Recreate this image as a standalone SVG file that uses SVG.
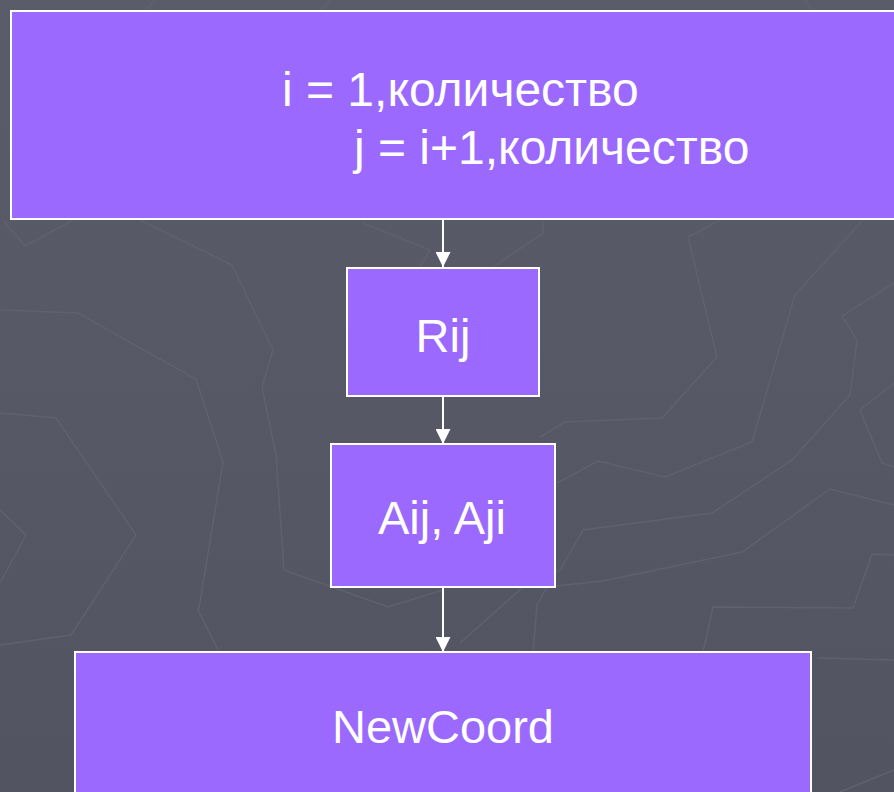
<svg xmlns="http://www.w3.org/2000/svg" width="894" height="792" viewBox="0 0 894 792">
  <defs>
    <linearGradient id="bg" x1="0" y1="0" x2="0" y2="1">
      <stop offset="0" stop-color="#5a5c6a"/>
      <stop offset="1" stop-color="#525462"/>
    </linearGradient>
    <marker id="arrow" viewBox="0 0 15 15" refX="15" refY="7.5" markerWidth="15" markerHeight="15" markerUnits="userSpaceOnUse" orient="auto">
      <path d="M0,0 L15,7.5 L0,15 Z" fill="#ffffff"/>
    </marker>
    <style>
      .deco { fill: none; stroke: #5f616e; stroke-width: 1.5; stroke-linejoin: miter; }
      .box { fill: #9b69fe; stroke: #ffffff; stroke-width: 2; }
      .lbl { font-family: "Liberation Sans", Arial, sans-serif; font-size: 47px; fill: #ffffff; }
      .hdr { font-size: 48px; }
      .edge { stroke: #ffffff; stroke-width: 2; fill: none; }
    </style>
  </defs>

  <!-- backdrop -->
  <rect x="0" y="0" width="894" height="792" fill="url(#bg)"/>

  <!-- faint contour pattern -->
  <g id="pattern">
    <polyline class="deco" points="0,310 78,313 196,379 223,462 199,608 198,610 219,652"/>
    <polyline class="deco" points="140,220 232,265 273,350 262,387 276,455 284,570 388,607 443,590"/>
    <polyline class="deco" points="0,413 56,418 136,535 71,635 0,645"/>
    <polyline class="deco" points="0,510 26,535 0,583"/>
    <polyline class="deco" points="3,220 25,246 73,220"/>
    <polyline class="deco" points="363,223 430,250 420,267"/>
    <polyline class="deco" points="493,267 543,233 543,220"/>
    <polyline class="deco" points="720,220 688,237 717,357 662,418 565,422 540,437"/>
    <polyline class="deco" points="863,220 795,295 752,442 665,477 598,461 557,483"/>
    <polyline class="deco" points="894,283 842,316 857,340 850,395 792,460 712,513 583,530 560,570 523,587 460,643"/>
    <polyline class="deco" points="894,383 860,410 882,463 894,467"/>
    <polyline class="deco" points="894,505 830,489 742,552 603,581 547,587 537,605 533,652"/>
    <polyline class="deco" points="894,555 872,554 853,608 713,607 703,652"/>
    <polyline class="deco" points="817,658 894,660"/>
    <polyline class="deco" points="894,770 840,792"/>
    <polyline class="deco" points="155,0 145,11"/>
    <polyline class="deco" points="330,0 320,11"/>
    <polyline class="deco" points="805,0 812,11"/>
  </g>

  <!-- connectors -->
  <g id="connectors">
    <line class="edge" x1="443" y1="219" x2="443" y2="267" marker-end="url(#arrow)"/>
    <line class="edge" x1="443" y1="396" x2="443" y2="444" marker-end="url(#arrow)"/>
    <line class="edge" x1="443" y1="587" x2="443" y2="652" marker-end="url(#arrow)"/>
  </g>

  <!-- loop header -->
  <g id="loop">
    <rect class="box" x="11" y="11" width="900" height="208"/>
    <text class="lbl hdr" x="282" y="106">i = 1,количество</text>
    <text class="lbl hdr" x="354" y="164">j = i+1,количество</text>
  </g>

  <g id="rij">
    <rect class="box" x="347" y="268" width="192" height="128"/>
    <text class="lbl" x="443" y="352" text-anchor="middle">Rij</text>
  </g>

  <g id="aij">
    <rect class="box" x="331" y="444" width="224" height="143"/>
    <text class="lbl" x="442" y="534" text-anchor="middle">Aij, Aji</text>
  </g>

  <g id="newcoord">
    <rect class="box" x="75" y="652" width="736" height="160"/>
    <text class="lbl" x="443" y="743" text-anchor="middle">NewCoord</text>
  </g>
</svg>
